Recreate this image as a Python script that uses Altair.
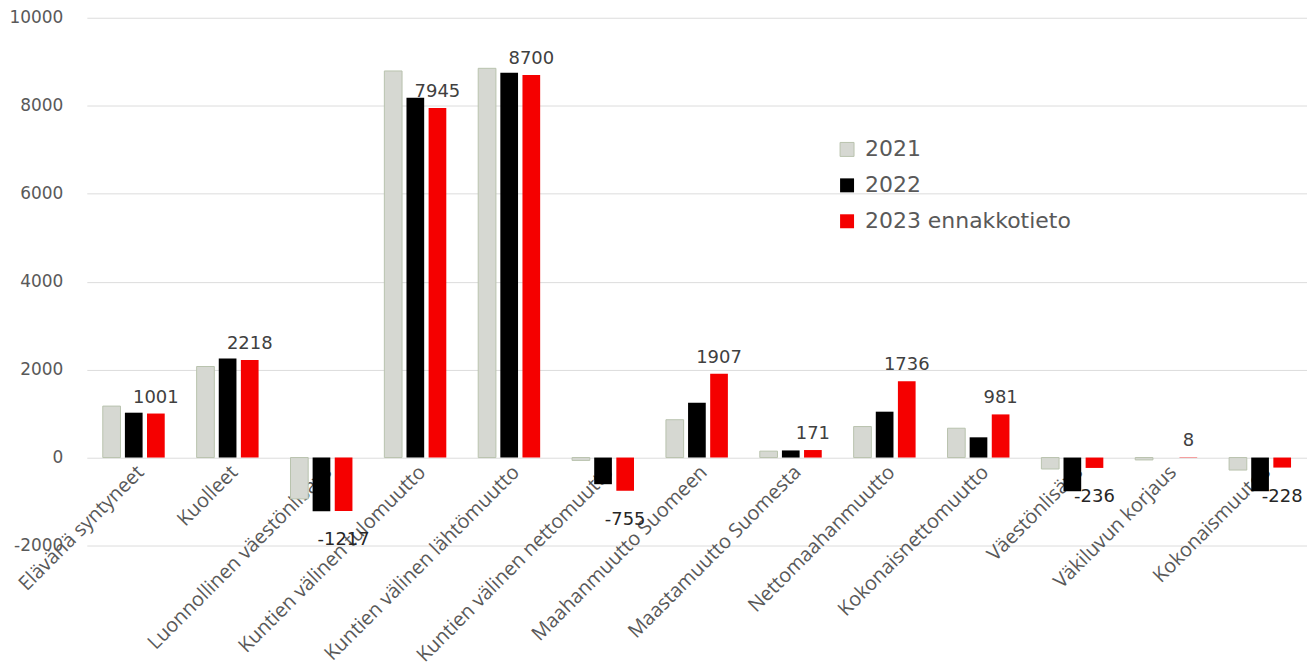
import altair as alt
import pandas as pd

categories = [
    "Elävänä syntyneet", "Kuolleet", "Luonnollinen väestönlisäys",
    "Kuntien välinen tulomuutto", "Kuntien välinen lähtömuutto",
    "Kuntien välinen nettomuutto", "Maahanmuutto Suomeen",
    "Maastamuutto Suomesta", "Nettomaahanmuutto", "Kokonaisnettomuutto",
    "Väestönlisäys", "Väkiluvun korjaus", "Kokonaismuutos",
]
series = ["2021", "2022", "2023 ennakkotieto"]
v2021 = [1170, 2070, -940, 8790, 8850, -65, 860, 146, 705, 667, -260, -54, -284]
v2022 = [1020, 2255, -1220, 8180, 8750, -606, 1245, 162, 1043, 460, -766, 0, -766]
v2023 = [1001, 2218, -1217, 7945, 8700, -755, 1907, 171, 1736, 981, -236, 8, -228]
y_ticks = [-2000, 0, 2000, 4000, 6000, 8000, 10000]

rows = []
for s, vals in zip(series, [v2021, v2022, v2023]):
    for c, v in zip(categories, vals):
        rows.append({"cat": c, "series": s, "value": v})
df = pd.DataFrame(rows)

fill_colors = ["#d6d8d2", "#000000", "#f50000"]
stroke_colors = ["#b9c3ae", "transparent", "transparent"]

x_enc = alt.X("cat:N", sort=categories, title=None,
              scale=alt.Scale(paddingInner=0.34, paddingOuter=0.17),
              axis=alt.Axis(labelAngle=-45, labelFont="Open Sans", labelFontSize=20,
                            labelColor="#595959", domain=False, ticks=False, grid=False,
                            labelPadding=4, offset=-88, labelLimit=400))
y_enc = alt.Y("value:Q", title=None,
              scale=alt.Scale(domain=[-2000, 10000], nice=False),
              axis=alt.Axis(values=y_ticks, labelExpr="datum.value + ''",
                            labelFont="DejaVu Sans", labelFontSize=17, labelColor="#595959",
                            domain=False, ticks=False, gridColor="#dcdcdc",
                            labelPadding=24, minExtent=79, maxExtent=79))
xo = alt.XOffset("series:N", sort=series, scale=alt.Scale(paddingInner=0.2))

base = alt.Chart(df)

bars = base.mark_bar(strokeWidth=1).encode(
    x=x_enc, y=y_enc, xOffset=xo,
    color=alt.Color("series:N", sort=series, title=None,
                    scale=alt.Scale(domain=series, range=fill_colors),
                    legend=alt.Legend(orient="none", legendX=751, legendY=121,
                                      symbolType="square", symbolSize=196,
                                      labelFont="DejaVu Sans", labelFontSize=22,
                                      labelColor="#595959", rowPadding=14,
                                      labelOffset=7, padding=0, labelLimit=400,
                                      symbolStrokeWidth=1)),
    stroke=alt.Stroke("series:N", sort=series, title=None,
                      scale=alt.Scale(domain=series, range=stroke_colors)),
)

lab = base.transform_filter(alt.datum.series == "2023 ennakkotieto").transform_calculate(
    label="datum.value + ''")
x_t = alt.X("cat:N", sort=categories)
y_t = alt.Y("value:Q")
pos_labels = lab.transform_filter(alt.datum.value >= 0).mark_text(
    baseline="bottom", dy=-7, font="DejaVu Sans", fontSize=18, color="#404040"
).encode(x=x_t, y=y_t, xOffset=xo, text="label:N")
neg_labels = lab.transform_filter(alt.datum.value < 0).mark_text(
    baseline="top", dy=20, font="DejaVu Sans", fontSize=18, color="#262626"
).encode(x=x_t, y=y_t, xOffset=xo, text="label:N")

chart = alt.layer(bars, pos_labels, neg_labels).properties(
    width=1223, height=529, background="white",
    padding={"left": 0, "top": 0, "right": 0, "bottom": 0}
).configure_view(strokeWidth=0).configure_axis(domain=False)

chart.save("out.html", embed_options={"renderer": "svg", "actions": False})
